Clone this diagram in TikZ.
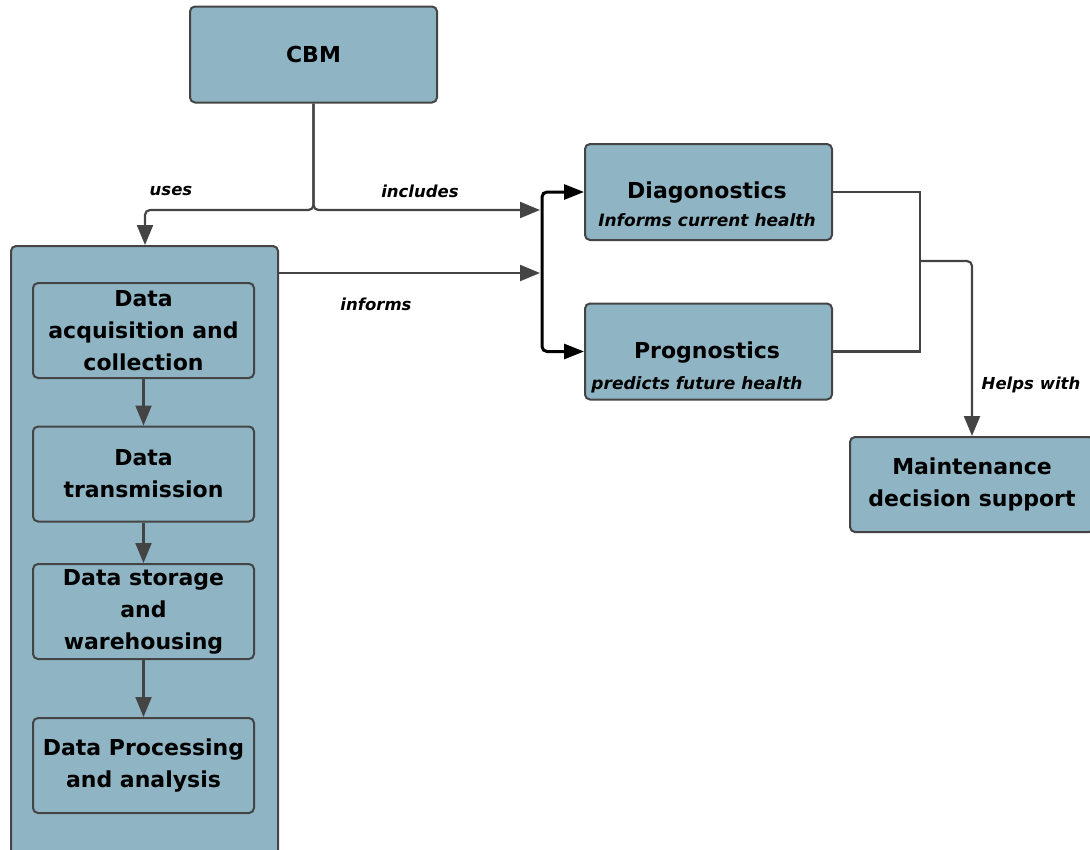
\documentclass[tikz,border=0pt]{standalone}
\usepackage{fontspec}
\setmainfont{DejaVu Sans}
\usetikzlibrary{arrows.meta}
\definecolor{boxblue}{RGB}{143,181,196}
\definecolor{edge}{RGB}{68,68,68}

\begin{document}
\begin{tikzpicture}[x=1pt,y=-1pt,
  box/.style={draw=edge,line width=2pt,fill=boxblue,rounded corners=5pt,inner sep=0pt,minimum width=247pt,minimum height=96pt},
  stage/.style={box,minimum width=221pt,minimum height=95pt},
  head/.style={font=\fontsize{22}{32}\selectfont\bfseries,align=center},
  sub/.style={font=\fontsize{17}{20}\selectfont\bfseries\itshape},
  lbl/.style={font=\fontsize{16.5}{20}\selectfont\bfseries\itshape},
  line/.style={draw=edge,line width=2.2pt},
  conn/.style={line,-{Triangle[length=20pt,width=16pt]}},
  brk/.style={draw=black,line width=3pt,{Triangle[length=20pt,width=15pt]}-{Triangle[length=20pt,width=15pt]},rounded corners=5pt}]
\path[use as bounding box,clip] (0,0) rectangle (1090,849);
% boxes
\node[box,head] (cbm) at (313.5,54.5) {CBM};
\node[box,minimum width=267pt,minimum height=620pt,anchor=north west] (data) at (10,245) {};
\node[stage,head] (acq) at (143.5,330.5) {Data\\acquisition and\\collection};
\node[stage,head] (trans) at (143.5,474) {Data\\transmission};
\node[stage,head] (store) at (143.5,611.5) {Data storage\\and\\warehousing};
\node[stage,head] (proc) at (143.5,765.5) {Data Processing\\and analysis};
\node[box] (diag) at (708.5,192) {};
\node[head] (diagT) at (707,193) {Diagonostics};
\node[sub] (diagS) at (707,220) {Informs current health};
\node[box] (prog) at (708.5,351.5) {};
\node[head] (progT) at (707,353) {Prognostics};
\node[sub] (progS) at (697,385) {predicts future health};
\node[box,minimum width=244pt,minimum height=95pt] (maint) at (972,484.5) {};
\node[head] (maintT) at (972,484) {Maintenance\\decision support};
% connectors
\coordinate (split) at (313.5,210);
\coordinate (inA) at (540,210);
\coordinate (inB) at (540,273);
\coordinate (bx) at (542,270);
\coordinate (mj) at (920,261);
\draw[conn,rounded corners=5pt] (cbm.south) -- (split) -| (data.north -| 145,0);
\draw[conn,rounded corners=5pt] (cbm.south) -- (split) -- (inA);
\draw[conn] (data.north east |- inB) -- (inB);
\draw[brk] (diag.west) -| (bx) |- (prog.west);
\draw[line] (diag.east) -| (mj) |- (prog.east);
\draw[conn,rounded corners=5pt] (mj) -| (maint.north);
\draw[conn] (acq) -- (trans);
\draw[conn] (trans) -- (store);
\draw[conn] (store) -- (proc);
% labels
\node[lbl] (uses) at (171,191) {uses};
\node[lbl] (incl) at (420,191) {includes};
\node[lbl] (inf) at (376,304) {informs};
\node[lbl] (helps) at (1031,385) {Helps with};
\end{tikzpicture}
\end{document}
